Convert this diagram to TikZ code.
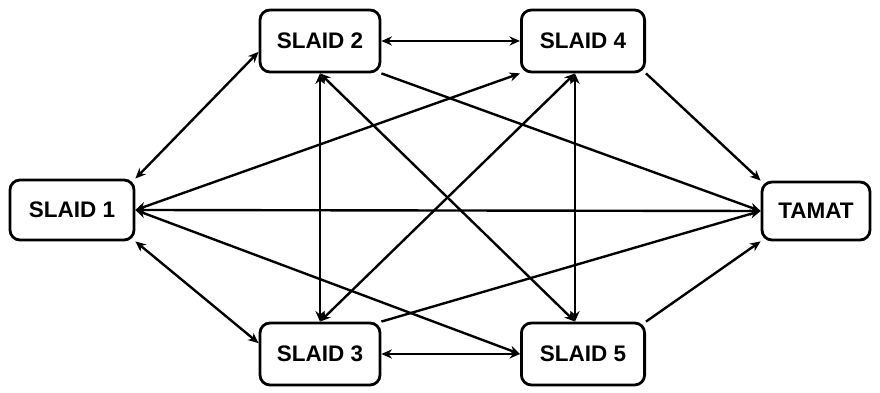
\documentclass[tikz,border=0pt]{standalone}
\usepackage{fontspec}
\setmainfont{Liberation Sans}
\usepackage{tikz}
\usetikzlibrary{
	arrows.meta,
	positioning
}

\begin{document}
\begin{tikzpicture}[>={Stealth[length=7.5pt,width=6.5pt]},
	slide/.style={draw,line width=2pt,rounded corners=0.25cm,minimum width=3cm,minimum height=1.55cm,font=\fontsize{16}{18}\selectfont\bfseries},
	link/.style={line width=1.7pt}]
			
			\useasboundingbox (0,0) rectangle (22,9.825);
			
			\node[slide,minimum width=3.1cm,minimum height=1.5cm] (s1) at (1.8,4.575) {SLAID 1};
			\node[slide] (s2) at (8,8.8) {SLAID 2};
			\node[slide,minimum width=3.08cm] (s4) at (14.575,8.8) {SLAID 4};
			\node[slide] (s3) at (8,0.975) {SLAID 3};
			\node[slide,minimum width=3.08cm] (s5) at (14.575,0.975) {SLAID 5};
			\node[slide,minimum width=2.7cm,minimum height=1.45cm] (tamat) at (20.4,4.55) {TAMAT};
			
			% dari slaid 1
			\draw[<->,link] (s1.north east)--(s2.-170);
			\draw[<->,link] (s1.south east)--(s3.170);
			\draw[<->,link] (s1.east)--(s4.south west);
			\draw[<->,link] (s1.east)--(s5.west);
			\draw[<->,link] (s1.east)--(tamat.west);
			
			% antara slaid
			\draw[<->,link] (s2.east)--(s4.west);
			\draw[<->,link] (s3.east)--(s5.west);
			\draw[<->,link] (s2.south)--(s3.north);
			\draw[<->,link] ([xshift=-0.2cm]s4.south)--([xshift=-0.2cm]s5.north);
			\draw[<->,link] (s2.south)--([xshift=-0.2cm]s5.north);
			\draw[<->,link] (s3.north)--([xshift=-0.2cm]s4.south);
			
			% ke tamat
			\draw[->,link] (s2.south east)--(tamat.west);
			\draw[->,link] (s3.north east)--(tamat.west);
			\draw[->,link] (s4.south east)--(tamat.north west);
			\draw[->,link] (s5.north east)--(tamat.south west);
			
		\end{tikzpicture}
\end{document}
